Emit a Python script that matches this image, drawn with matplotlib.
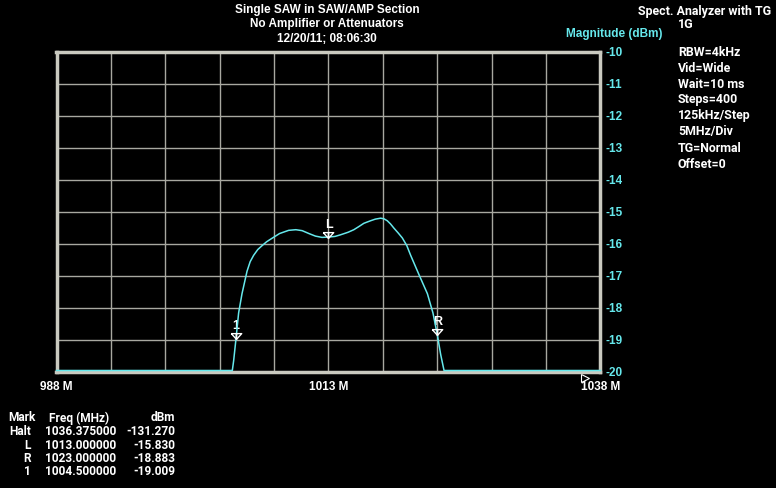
import matplotlib
matplotlib.use("Agg")
import matplotlib.pyplot as plt
from matplotlib.transforms import offset_copy

# trace (clipped at bottom of screen, -20 dBm)
freq = [988.0, 1004.16, 1004.28, 1004.50, 1004.74, 1005.05, 1005.51, 1005.8, 1006.12,
        1006.5, 1006.89, 1007.3, 1007.66, 1008.5, 1009.34, 1010.0, 1010.58, 1011.2,
        1011.80, 1012.4, 1013.0, 1013.6, 1014.10, 1014.8, 1015.33, 1015.8, 1016.25,
        1016.87, 1017.3, 1017.79, 1018.1, 1018.40, 1018.7, 1019.01, 1019.4, 1019.79,
        1020.2, 1020.55, 1021.31, 1022.09, 1022.6, 1023.0, 1023.31, 1023.62, 1038.0]
mag = [-20.0, -20.0, -19.7, -19.0, -18.2, -17.6, -16.9, -16.6, -16.4,
       -16.22, -16.1, -15.98, -15.9, -15.72, -15.62, -15.6, -15.63, -15.72,
       -15.8, -15.84, -15.83, -15.81, -15.76, -15.68, -15.6, -15.5, -15.4,
       -15.32, -15.27, -15.24, -15.26, -15.32, -15.42, -15.55, -15.7, -15.86,
       -16.1, -16.4, -17.0, -17.6, -18.2, -18.88, -19.5, -20.0, -20.0]

# markers shown on trace
mark_names = ["1", "L", "R"]
mark_freq = [1004.5, 1013.0, 1023.0]
mark_dbm = [-19.009, -15.830, -18.883]

# marker table
table_mark = ["Halt", "L", "R", "1"]
table_freq = ["1036.375000", "1013.000000", "1023.000000", "1004.500000"]
table_dbm = ["-131.270", "-15.830", "-18.883", "-19.009"]
halt_freq = 1036.375

yticks = list(range(-10, -21, -1))
xticks = [988, 1013, 1038]
xtick_labels = ["988 M", "1013 M", "1038 M"]

title_lines = ["Single SAW in SAW/AMP Section", "No Amplifier or Attenuators",
               "12/20/11; 08:06:30"]
settings = ["RBW=4kHz", "Vid=Wide", "Wait=10 ms", "Steps=400", "125kHz/Step",
            "5MHz/Div", "TG=Normal", "Offset=0"]

CYAN = "#66e8ec"
GRID = "#a8a8a0"
FRAME = "#cacac0"
W, H = 776, 489
SMALL = dict(color="white", fontsize=8.9, fontweight="bold", family="Roboto", va="center")
TABLE = dict(SMALL, fontsize=8.6)
BIG = dict(fontsize=8.5, fontweight="bold", family="Liberation Sans", va="center")

fig = plt.figure(figsize=(7.76, 4.89), dpi=100, facecolor="black")
ax = fig.add_axes([56.5 / W, (H - 373) / H, 544 / W, 320 / H], facecolor="black")

ax.set_xlim(988, 1038)
ax.set_ylim(-20, -10)
ax.set_xticks([988 + 5 * i for i in range(11)])
ax.set_yticks(yticks)
ax.grid(True, color=GRID, lw=1)
ax.tick_params(length=0, labelleft=False, labelbottom=False)
for s in ax.spines.values():
    s.set_color(FRAME)
    s.set_linewidth(2.5)

trace_tr = offset_copy(ax.transData, fig=fig, x=0, y=1.5, units="dots")
ax.plot(freq, mag, color=CYAN, lw=1.1, clip_on=False, zorder=5, transform=trace_tr)

# markers: flat open triangle with a stem, label above
tri_shape = [(-1.0, 0.55), (1.0, 0.55), (0.0, -0.55), (-1.0, 0.55)]
tri = offset_copy(ax.transData, fig=fig, x=0, y=4, units="dots")
lab = offset_copy(ax.transData, fig=fig, x=0, y=12, units="dots")
for n, f, d in zip(mark_names, mark_freq, mark_dbm):
    ax.plot(f, d, marker=tri_shape, ms=7.5, mfc="none", mec="white", mew=1,
            transform=tri, zorder=6)
    ax.plot([f, f], [d, d], marker="|", ms=4, mec="white", mew=1,
            transform=tri, zorder=6)
    ax.text(f, d, n, color="white", ha="center", transform=lab,
            **{**BIG, "va": "baseline", "fontsize": 9})

# halt pointer
halt_tr = offset_copy(ax.transData, fig=fig, x=2, y=-6, units="dots")
ax.plot(halt_freq, -20, marker=">", ms=6, mfc="none", mec="white", mew=0.8,
        transform=halt_tr, clip_on=False)

# y labels on right
for v in yticks:
    y = 373 - (v + 20) * 32
    fig.text(606 / W, 1 - y / H, str(v), color=CYAN, **BIG)

for f, t in zip(xticks, xtick_labels):
    x = 56.5 + (f - 988) / 50 * 544
    fig.text(x / W, 1 - 387 / H, t, color="white", ha="center", **BIG)

for i, t in enumerate(title_lines):
    fig.text(327 / W, 1 - (10 + 14.5 * i) / H, t, color="white", ha="center", **BIG)

fig.text(566 / W, 1 - 34 / H, "Magnitude (dBm)", color=CYAN, **BIG)

fig.text(638 / W, 1 - 11 / H, "Spect. Analyzer with TG", **SMALL)
fig.text(678 / W, 1 - 25 / H, "1G", **SMALL)
for i, t in enumerate(settings):
    fig.text(678 / W, 1 - (52 + 16 * i) / H, t, **SMALL)

# marker table
fig.text(8 / W, 1 - 418 / H, "Mark", **TABLE)
fig.text(49 / W, 1 - 418 / H, "Freq (MHz)", **TABLE)
fig.text(175 / W, 1 - 418 / H, "dBm", ha="right", **TABLE)
for i, (m, f, d) in enumerate(zip(table_mark, table_freq, table_dbm)):
    y = 1 - (432 + 13.3 * i) / H
    fig.text(31 / W, y, m, ha="right", **TABLE)
    fig.text(116 / W, y, f, ha="right", **TABLE)
    fig.text(175 / W, y, d, ha="right", **TABLE)

fig.savefig("out.png", dpi=100, facecolor="black")
